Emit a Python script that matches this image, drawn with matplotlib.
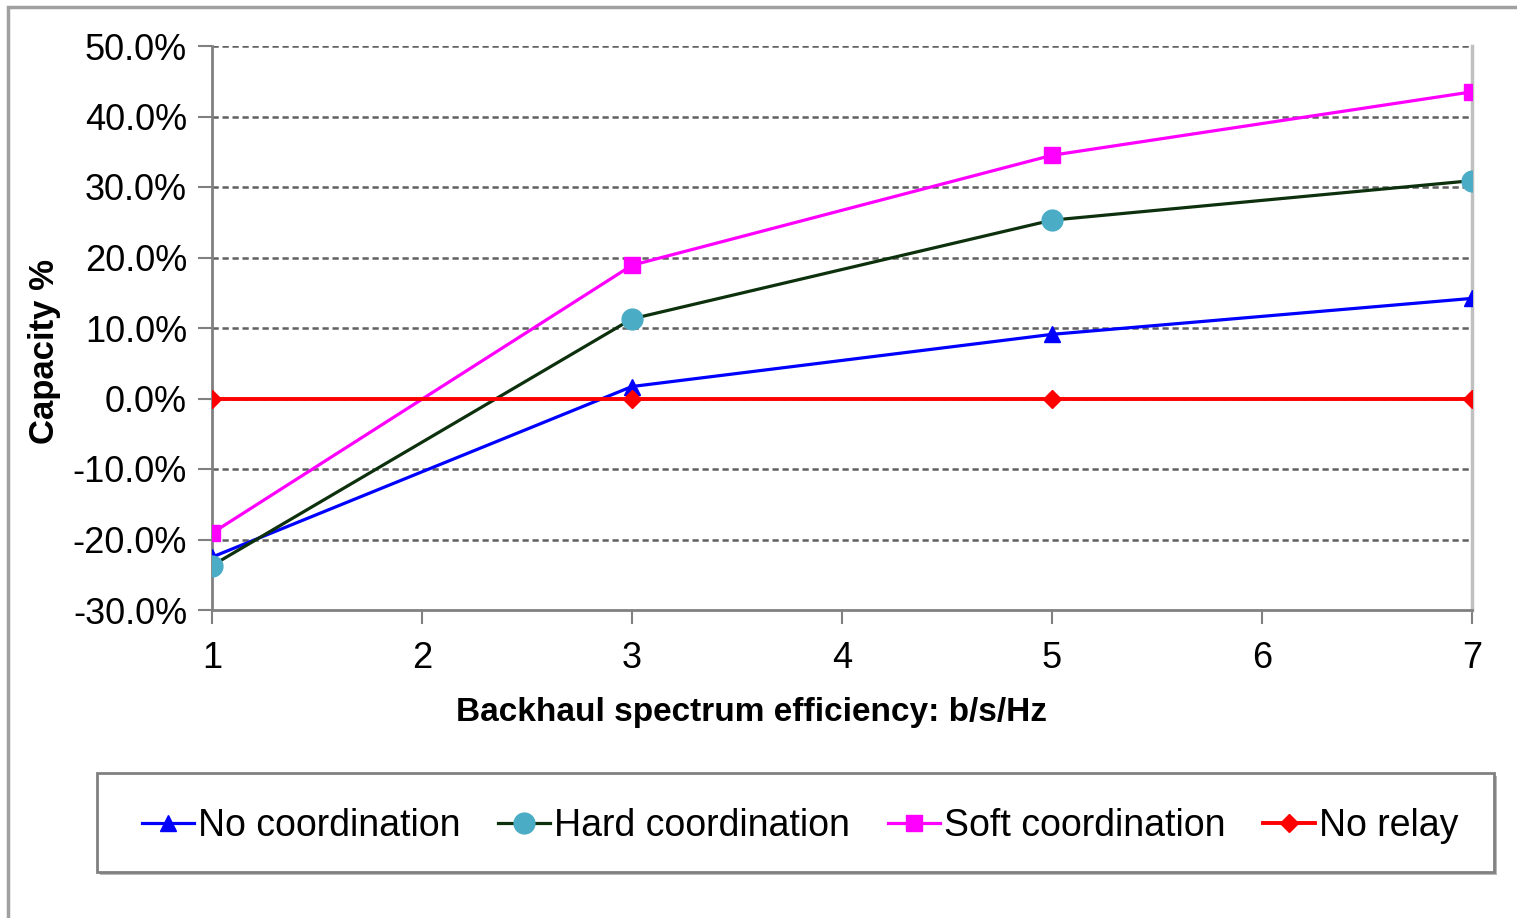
import matplotlib
matplotlib.use('Agg')
import matplotlib.pyplot as plt
from matplotlib.patches import Rectangle
from matplotlib.ticker import FuncFormatter

# data
efficiency = [1, 3, 5, 7]
no_coordination = [-22.5, 1.7, 9.1, 14.2]
hard_coordination = [-23.7, 11.3, 25.3, 30.9]
soft_coordination = [-19.1, 18.9, 34.5, 43.5]
no_relay = [0.0, 0.0, 0.0, 0.0]

x_ticks = [1, 2, 3, 4, 5, 6, 7]
y_ticks = [-30, -20, -10, 0, 10, 20, 30, 40, 50]

FONT = 'Liberation Sans'
W, H = 1517, 918

fig = plt.figure(figsize=(W / 100, H / 100), dpi=100)
ax = fig.add_axes([212 / W, 1 - 610 / H, (1472 - 212) / W, (610 - 46) / H])

ax.plot(efficiency, no_coordination, color='#0000ff', lw=2.3, marker='^',
        ms=11, label='No coordination', zorder=3)
ax.plot(efficiency, hard_coordination, color='#0d300d', lw=2.3, marker='o',
        ms=15, mfc='#4bacc6', mec='#4bacc6', label='Hard coordination', zorder=3)
ax.plot(efficiency, soft_coordination, color='#ff00ff', lw=2.3, marker='s',
        ms=12, label='Soft coordination', zorder=3)
ax.plot(efficiency, no_relay, color='#ff0000', lw=2.8, marker='D',
        ms=9, label='No relay', zorder=3)

ax.set_xlim(1, 7)
ax.set_ylim(-30, 50)
ax.set_xticks(x_ticks)
ax.set_yticks(y_ticks)
ax.yaxis.set_major_formatter(FuncFormatter(lambda v, p: f'{v:.1f}%'))

for t in ax.get_xticklabels() + ax.get_yticklabels():
    t.set_fontfamily(FONT)
    t.set_fontsize(26)
ax.tick_params(axis='y', length=10, width=1.5, color='#808080', pad=8)
ax.tick_params(axis='x', length=10, width=1.5, color='#808080', pad=12)

# dashed gridlines, the top one doubles as the frame
for v in y_ticks[1:]:
    ax.axhline(v, color='#606060', lw=1.8, ls=(0, (2.5, 1.5)), zorder=1)
ax.spines['top'].set_visible(False)
ax.spines['left'].set_color('#808080')
ax.spines['left'].set_linewidth(2)
ax.spines['bottom'].set_color('#808080')
ax.spines['bottom'].set_linewidth(2)
ax.spines['right'].set_color('#c0c0c0')
ax.spines['right'].set_linewidth(2.5)

fig.text(752 / W, 1 - 713 / H, 'Backhaul spectrum efficiency: b/s/Hz',
         fontfamily=FONT, fontweight='bold', fontsize=24,
         ha='center', va='center')
fig.text(45 / W, 1 - 352 / H, 'Capacity %', fontfamily=FONT,
         fontweight='bold', fontsize=25, rotation=90,
         ha='center', va='center')

# outer chart border
fig.patches.append(Rectangle((8 / W, -0.01), 1.02, 1 - 7 / H + 0.01,
                             transform=fig.transFigure, fill=False,
                             ec='#a0a0a0', lw=2.5))

# legend box with shadow
fig.patches.append(Rectangle((100 / W, 1 - 875 / H), 1397 / W, 99 / H,
                             transform=fig.transFigure, fc='#b8b8b8',
                             ec='none'))
fig.patches.append(Rectangle((97 / W, 1 - 872 / H), 1397 / W, 99 / H,
                             transform=fig.transFigure, fc='white',
                             ec='#808080', lw=2))
fig.legend(loc='center', bbox_to_anchor=(800 / W, 1 - 826 / H), ncol=4,
           frameon=False, prop={'family': FONT, 'size': 27},
           handlelength=1.4, handletextpad=0.1, columnspacing=1.0,
           markerscale=1.0)

fig.savefig('out.png', dpi=100)
